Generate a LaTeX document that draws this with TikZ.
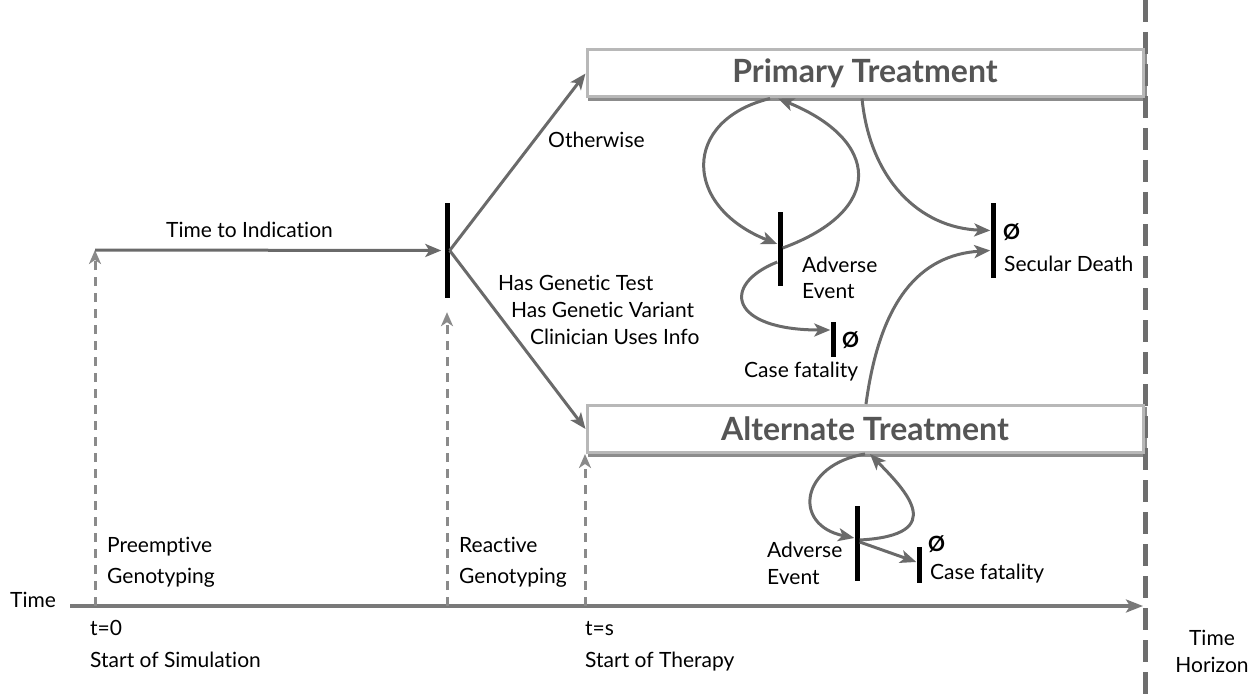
\documentclass[tikz,border=0pt]{standalone}
\usepackage{fontspec}
\setmainfont{Lato}[Ligatures=NoCommon]
\usetikzlibrary{arrows.meta,backgrounds}
\definecolor{arrgray}{HTML}{6A6A6A}
\definecolor{dgray}{HTML}{8A8A8A}
\definecolor{hgray}{HTML}{6E6E6E}
\definecolor{boxgray}{HTML}{B8B8B8}
\definecolor{shgray}{HTML}{8C8C8C}
\definecolor{boxtext}{HTML}{555555}
\begin{document}
\begin{tikzpicture}[x=1pt,y=-1pt,
  arr/.style={draw=arrgray, line width=3pt, -{Stealth[length=16pt,width=13pt,inset=4pt]}},
  dsh/.style={draw=dgray, line width=3pt, dash pattern=on 9pt off 7pt, -{Stealth[length=14pt,width=12pt,inset=4pt]}},
  bar/.style={fill=black, inner sep=0pt, minimum width=5pt, draw=none},
  tbox/.style={draw=boxgray, line width=3pt, fill=white, minimum width=556pt, minimum height=47pt, inner sep=0pt,
     font=\fontsize{32}{34}\selectfont\bfseries, text=boxtext},
  lbl/.style={inner sep=0pt, font=\fontsize{21}{24}\selectfont, text=black},
  nul/.style={inner sep=0pt, font=\fontsize{21}{24}\selectfont\bfseries, text=black}
]
\useasboundingbox (0,0) rectangle (1254,698);

% time horizon
\coordinate (th0) at (1145,0);
\coordinate (th1) at (1145,698);
\draw[hgray, line width=5pt, dash pattern=on 22pt off 10pt] (th0) -- (th1);

% boxes
\node[tbox] (prim) at (865,73.5) {Primary Treatment};
\node[tbox] (alt) at (865,429) {Alternate Treatment};
\begin{pgfonlayer}{background}
\fill[shgray] ([shift={(2,3)}]prim.south west) rectangle ([shift={(2,3)}]prim.north east);
\fill[shgray] ([shift={(2,3)}]alt.south west) rectangle ([shift={(2,3)}]alt.north east);
\end{pgfonlayer}

% bars
\node[bar, minimum height=95pt] (dec) at (447,250.5) {};
\node[bar, minimum height=74pt] (ae1) at (780,249) {};
\node[bar, minimum height=35pt] (cf1) at (833,339.5) {};
\node[bar, minimum height=75pt] (sd) at (993,240.5) {};
\node[bar, minimum height=75pt] (ae2) at (857,543) {};
\node[bar, minimum height=36pt] (cf2) at (919,565) {};

% time axis
\coordinate (ax0) at (70,606);
\coordinate (ax1) at (1143,606);
\draw[draw=arrgray!90, line width=3.5pt, -{Stealth[length=17pt,width=13pt,inset=4pt]}] (ax0) -- (ax1);

% start / dashed
\coordinate (s0) at (95,250);
\coordinate (t0) at (95,606);
\coordinate (tr) at (447,606);
\coordinate (ts) at (585,606);
\draw[dsh] (t0) -- (s0);
\draw[dsh, shorten >=14pt] (tr) -- (dec.south);
\draw[dsh] (ts) -- (ts |- alt.south);

\draw[arr] (s0) -- ([xshift=-3pt]dec.west);
\draw[arr] (dec.east) -- (prim.west);
\draw[arr] (dec.east) -- (alt.west);

% primary loop
\coordinate (pl) at ([xshift=-95pt]prim.south);
\coordinate (pr) at ([xshift=-87pt]prim.south);
\coordinate (ps) at ([xshift=-3pt]prim.south);
\draw[arr] (pl) .. controls (682,120) and (682,206) .. ([yshift=5pt]ae1.west);
\draw[arr] ([yshift=1pt]ae1.east) .. controls (886,210) and (880,140) .. (pr);
\draw[arr] ([yshift=-13pt]ae1.west) .. controls (720,285) and (730,330) .. ([yshift=9.5pt]cf1.west);
\draw[arr] (ps) .. controls (870,180) and (920,228) .. ([yshift=10pt]sd.west);
% alternate
\coordinate (as) at ([xshift=1pt]alt.north);
\coordinate (al) at ([xshift=0pt]alt.south);
\coordinate (ar) at ([xshift=5pt]alt.south);
\draw[arr] (as) .. controls (880,300) and (920,255) .. ([yshift=-10pt]sd.west);
\draw[arr] (al) .. controls (800,465) and (792,525) .. ([yshift=5pt]ae2.west);
\draw[arr] ([yshift=3pt]ae2.east) .. controls (950,535) and (905,490) .. (ar);
\draw[arr] ([yshift=1pt]ae2.east) -- ([yshift=3pt]cf2.west);

% labels
\node[lbl, anchor=base west] (l1) at (166,237) {Time to Indication};
\node[lbl, anchor=base west] (l2) at (548,148) {Otherwise};
\node[lbl, anchor=base west] (l3) at (498,290) {Has Genetic Test};
\node[lbl, anchor=base west] (l4) at (511,317) {Has Genetic Variant};
\node[lbl, anchor=base west] (l5) at (530,344) {Clinician Uses Info};
\node[lbl, anchor=base west] (l6) at (802,272) {Adverse};
\node[lbl, anchor=base west] (l7) at (802,298) {Event};
\node[nul, anchor=base west] (l8) at (842,347) {Ø};
\node[lbl, anchor=base west] (l9) at (744,377) {Case fatality};
\node[nul, anchor=base west] (l10) at (1003,240) {Ø};
\node[lbl, anchor=base west] (l11) at (1004,271) {Secular Death};
\node[lbl, anchor=base west] (l12) at (767,557) {Adverse};
\node[lbl, anchor=base west] (l13) at (767,584) {Event};
\node[nul, anchor=base west] (l14) at (928,551) {Ø};
\node[lbl, anchor=base west] (l15) at (930,579) {Case fatality};
\node[lbl, anchor=base west] (l16) at (107,552) {Preemptive};
\node[lbl, anchor=base west] (l17) at (107,583) {Genotyping};
\node[lbl, anchor=base west] (l18) at (459,552) {Reactive};
\node[lbl, anchor=base west] (l19) at (459,583) {Genotyping};
\node[lbl, anchor=base west] (l20) at (10,607) {Time};
\node[lbl, anchor=base west] (l21) at (90,635) {t=0};
\node[lbl, anchor=base west] (l22) at (90,667) {Start of Simulation};
\node[lbl, anchor=base west] (l23) at (585,635) {t=s};
\node[lbl, anchor=base west] (l24) at (585,667) {Start of Therapy};
\node[lbl, anchor=base] (l25) at (1212,645) {Time};
\node[lbl, anchor=base] (l26) at (1212,672) {Horizon};
\end{tikzpicture}
\end{document}
